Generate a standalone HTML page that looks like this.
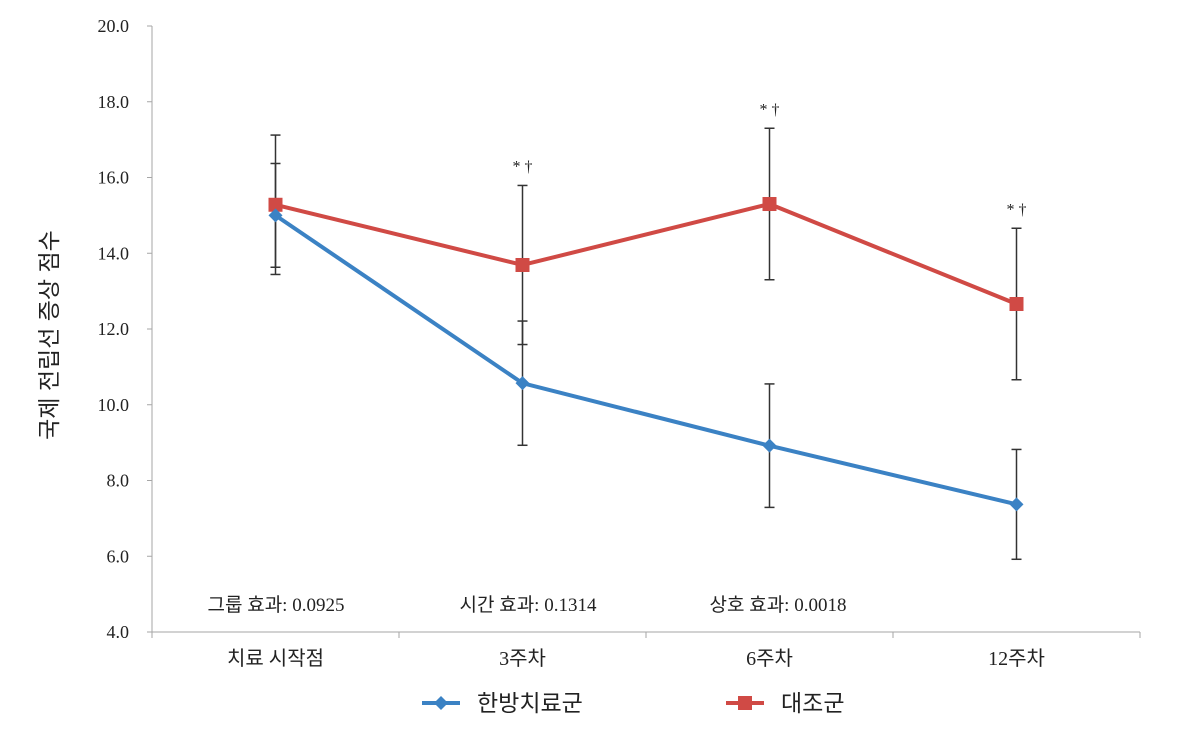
<!DOCTYPE html>
<html><head><meta charset="utf-8"><style>
body{margin:0;background:#fff}
svg text{font-family:"Liberation Serif","Noto Sans CJK KR",serif}
.k{font-family:"Liberation Sans","Noto Sans CJK KR",sans-serif}
</style></head><body>
<svg id="c" width="1187" height="748"></svg>
<script>
const categories=["치료 시작점","3주차","6주차","12주차"];
const herbalMean=[15.0,10.57,8.92,7.37];
const herbalErr=[1.37,1.64,1.63,1.45];
const controlMean=[15.28,13.69,15.3,12.66];
const controlErr=[1.84,2.1,2.0,2.0];
const yTicks=[4,6,8,10,12,14,16,18,20];
const sigLabels=["","* †","* †","* †"];
const effects=["그룹 효과: 0.0925","시간 효과: 0.1314","상호 효과: 0.0018"];

const NS="http://www.w3.org/2000/svg",svg=document.getElementById('c');
const X0=152,X1=1140,Y0=632,Y1=26;
const bw=(X1-X0)/categories.length;
const x=i=>X0+bw*(i+0.5);
const y=v=>Y0-(v-4)/16*(Y0-Y1);
function mk(t,a,p){const e=document.createElementNS(NS,t);for(const k in a)e.setAttribute(k,a[k]);(p||svg).appendChild(e);return e;}
let e;
e=mk('line',{x1:X0,y1:Y1,x2:X0,y2:Y0,stroke:'#a6a6a6'});

e=mk('line',{x1:X0,y1:Y0,x2:X1,y2:Y0,stroke:'#a6a6a6'});

yTicks.forEach(v=>{
 mk('line',{x1:X0-5,y1:y(v),x2:X0,y2:y(v),stroke:'#a6a6a6'});
 e=mk('text',{x:X0-23,y:y(v)+6,'text-anchor':'end','font-size':18,fill:'#222'});e.textContent=v.toFixed(1);
 
});
for(let i=0;i<=categories.length;i++)mk('line',{x1:X0+bw*i,y1:Y0,x2:X0+bw*i,y2:Y0+6,stroke:'#a6a6a6'});
categories.forEach((c,i)=>{
 e=mk('text',{x:x(i),y:665,'text-anchor':'middle','font-size':20,fill:'#222'});e.textContent=c;
 
});
e=mk('text',{transform:'translate(57,335) rotate(-90)','text-anchor':'middle','font-size':23,fill:'#222',class:'k'});e.textContent='국제 전립선 증상 점수';

const effX=[276,528,778];
effects.forEach((t,i)=>{e=mk('text',{x:effX[i],y:611,'text-anchor':'middle','font-size':19,fill:'#222'});e.textContent=t;
 });
function errs(m,er,name){m.forEach((v,i)=>{const g=mk('g',{stroke:'#333','stroke-width':1.5});
 
 mk('line',{x1:x(i),y1:y(v+er[i]),x2:x(i),y2:y(v-er[i])},g);
 mk('line',{x1:x(i)-5,y1:y(v+er[i]),x2:x(i)+5,y2:y(v+er[i])},g);
 mk('line',{x1:x(i)-5,y1:y(v-er[i]),x2:x(i)+5,y2:y(v-er[i])},g);});}
errs(controlMean,controlErr,'control-error-bar');errs(herbalMean,herbalErr,'herbal-error-bar');
e=mk('polyline',{points:controlMean.map((v,i)=>x(i)+','+y(v)).join(' '),fill:'none',stroke:'#d04a45','stroke-width':4});

e=mk('polyline',{points:herbalMean.map((v,i)=>x(i)+','+y(v)).join(' '),fill:'none',stroke:'#3b82c4','stroke-width':4});

controlMean.forEach((v,i)=>{e=mk('rect',{x:x(i)-7,y:y(v)-7,width:14,height:14,fill:'#d04a45'});
 });
herbalMean.forEach((v,i)=>{e=mk('polygon',{points:`${x(i)},${y(v)-7} ${x(i)+7},${y(v)} ${x(i)},${y(v)+7} ${x(i)-7},${y(v)}`,fill:'#3b82c4'});
 });
sigLabels.forEach((s,i)=>{if(!s)return;const top=Math.max(controlMean[i]+controlErr[i],herbalMean[i]+herbalErr[i]);
 e=mk('text',{x:x(i),y:y(top)-14,'text-anchor':'middle','font-size':16,fill:'#222'});e.textContent=s;
 });
// legend
let g=mk('g',{});
mk('line',{x1:422,y1:703,x2:460,y2:703,stroke:'#3b82c4','stroke-width':4},g);
mk('polygon',{points:'441,696 448,703 441,710 434,703',fill:'#3b82c4'},g);
e=mk('text',{x:477,y:711,'font-size':23,fill:'#222',class:'k'},g);e.textContent='한방치료군';
g=mk('g',{});
mk('line',{x1:726,y1:703,x2:764,y2:703,stroke:'#d04a45','stroke-width':4},g);
mk('rect',{x:738,y:696,width:14,height:14,fill:'#d04a45'},g);
e=mk('text',{x:781,y:711,'font-size':23,fill:'#222',class:'k'},g);e.textContent='대조군';
</script>
</body></html>
